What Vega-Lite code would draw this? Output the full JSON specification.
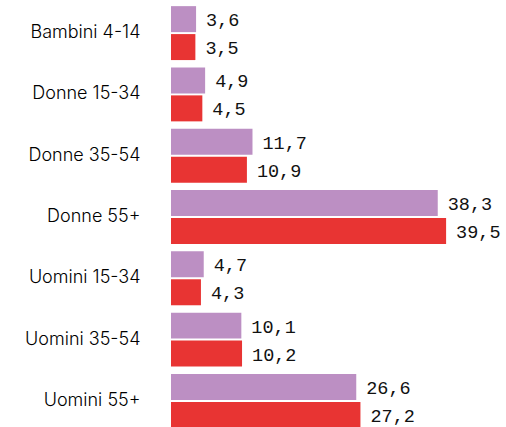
{
  "$schema": "https://vega.github.io/schema/vega-lite/v6.json",
  "width": 335,
  "height": 434,
  "autosize": "none",
  "padding": {"left": 171, "top": 0, "right": 0, "bottom": 0},
  "background": "white",
  "config": {
    "view": {"stroke": null},
    "locale": {"number": {"decimal": ",", "thousands": ".", "grouping": [3], "currency": ["€", ""]}}
  },
  "data": {
    "values": [
      {"gruppo": "Bambini 4-14", "serie": "A", "valore": 3.6},
      {"gruppo": "Bambini 4-14", "serie": "B", "valore": 3.5},
      {"gruppo": "Donne 15-34", "serie": "A", "valore": 4.9},
      {"gruppo": "Donne 15-34", "serie": "B", "valore": 4.5},
      {"gruppo": "Donne 35-54", "serie": "A", "valore": 11.7},
      {"gruppo": "Donne 35-54", "serie": "B", "valore": 10.9},
      {"gruppo": "Donne 55+", "serie": "A", "valore": 38.3},
      {"gruppo": "Donne 55+", "serie": "B", "valore": 39.5},
      {"gruppo": "Uomini 15-34", "serie": "A", "valore": 4.7},
      {"gruppo": "Uomini 15-34", "serie": "B", "valore": 4.3},
      {"gruppo": "Uomini 35-54", "serie": "A", "valore": 10.1},
      {"gruppo": "Uomini 35-54", "serie": "B", "valore": 10.2},
      {"gruppo": "Uomini 55+", "serie": "A", "valore": 26.6},
      {"gruppo": "Uomini 55+", "serie": "B", "valore": 27.2}
    ]
  },
  "encoding": {
    "y": {
      "field": "gruppo", "type": "nominal", "sort": null,
      "scale": {"paddingInner": 0.12, "paddingOuter": 0.1},
      "axis": {"title": null, "domain": false, "ticks": false, "labelPadding": 31, "labelFont": "Inter", "labelFontSize": 18, "labelColor": "#000000", "labelFontWeight": 300}
    },
    "yOffset": {"field": "serie", "type": "nominal", "scale": {"paddingInner": 0.07, "paddingOuter": 0}},
    "x": {"field": "valore", "type": "quantitative", "scale": {"domain": [0, 48.1]}, "axis": null}
  },
  "layer": [
    {
      "mark": {"type": "bar"},
      "encoding": {
        "color": {"field": "serie", "type": "nominal", "scale": {"domain": ["A", "B"], "range": ["#BC8FC3", "#E83433"]}, "legend": null}
      }
    },
    {
      "mark": {"type": "text", "align": "left", "baseline": "middle", "dx": 10, "dy": 1, "font": "Liberation Mono", "fontSize": 18.5, "color": "#111111"},
      "encoding": {
        "text": {"field": "valore", "type": "quantitative", "format": ".1f"}
      }
    }
  ]
}
